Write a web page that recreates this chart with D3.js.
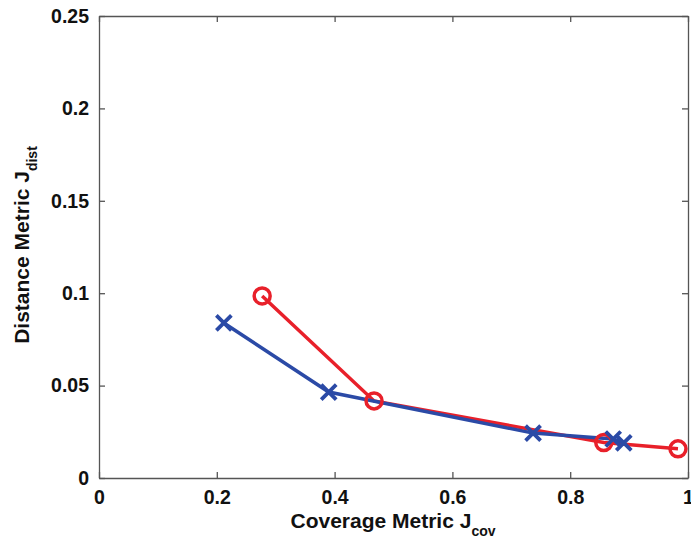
<html>
<head>
<script src="https://d3js.org/d3.v7.min.js"></script>
<style>
  body { margin: 0; background: white; }
  text { font-family: "Liberation Sans", Arial, sans-serif; font-weight: bold; }
</style>
</head>
<body>
<script>
// values
var redX = [0.277, 0.467, 0.857, 0.983];
var redY = [0.0985, 0.0417, 0.0192, 0.0158];
var blueX = [0.212, 0.390, 0.737, 0.873, 0.891];
var blueY = [0.0839, 0.0465, 0.0243, 0.0211, 0.0190];
var xTicks = [0, 0.2, 0.4, 0.6, 0.8, 1];
var yTicks = [0, 0.05, 0.1, 0.15, 0.2, 0.25];

var width = 691, height = 546;
var mLeft = 99, mRight = 688, mTop = 16, mBottom = 478;

var svg = d3.select("body").append("svg")
  .attr("width", width)
  .attr("height", height);

var x = d3.scaleLinear().domain([0, 1]).range([mLeft, mRight]);
var y = d3.scaleLinear().domain([0, 0.25]).range([mBottom, mTop]);

var fmt = function(d) { return String(+d.toFixed(2)); };

// axes: ticks inward, mirrored on top/right
svg.append("g").attr("transform", "translate(0," + mBottom + ")")
  .call(d3.axisBottom(x).tickValues(xTicks).tickSizeInner(-6).tickSizeOuter(0).tickPadding(12).tickFormat(fmt));
svg.append("g").attr("transform", "translate(" + mLeft + ",0)")
  .call(d3.axisLeft(y).tickValues(yTicks).tickSizeInner(-6).tickSizeOuter(0).tickPadding(10).tickFormat(fmt));
svg.append("g").attr("transform", "translate(0," + mTop + ")")
  .call(d3.axisTop(x).tickValues(xTicks).tickSizeInner(-6).tickSizeOuter(0).tickFormat(""));
svg.append("g").attr("transform", "translate(" + mRight + ",0)")
  .call(d3.axisRight(y).tickValues(yTicks).tickSizeInner(-6).tickSizeOuter(0).tickFormat(""));

svg.selectAll(".domain, .tick line").attr("stroke", "#555").attr("stroke-width", 1.3);
svg.selectAll(".tick text").attr("font-size", 19.5).attr("fill", "#111")
  .style("font-family", "'Liberation Sans', Arial, sans-serif").style("font-weight", "bold");

var line = d3.line().x(function(d) { return x(d[0]); }).y(function(d) { return y(d[1]); });

var red = redX.map(function(v, i) { return [v, redY[i]]; });
var blue = blueX.map(function(v, i) { return [v, blueY[i]]; });

var redC = "#e8202a", blueC = "#2b4aa6";

svg.append("path").datum(red).attr("d", line)
  .attr("fill", "none").attr("stroke", redC).attr("stroke-width", 3.5);
svg.append("path").datum(blue).attr("d", line)
  .attr("fill", "none").attr("stroke", blueC).attr("stroke-width", 3.5);

svg.selectAll(".circ").data(red).enter().append("circle")
  .attr("cx", function(d) { return x(d[0]); })
  .attr("cy", function(d) { return y(d[1]); })
  .attr("r", 8)
  .attr("fill", "none").attr("stroke", redC).attr("stroke-width", 3.5);

var s = 7.5;
svg.selectAll(".cross").data(blue).enter().append("path")
  .attr("d", function(d) {
    var cx = x(d[0]), cy = y(d[1]);
    return "M" + (cx - s) + "," + (cy - s) + "L" + (cx + s) + "," + (cy + s) +
           "M" + (cx - s) + "," + (cy + s) + "L" + (cx + s) + "," + (cy - s);
  })
  .attr("stroke", blueC).attr("stroke-width", 3.8).attr("fill", "none");

// axis labels
var xl = svg.append("text").attr("x", 393).attr("y", 528)
  .attr("text-anchor", "middle").attr("font-size", 21).attr("fill", "#111");
xl.append("tspan").text("Coverage Metric J");
xl.append("tspan").attr("font-size", 14).attr("dy", 8).text("cov");

var yl = svg.append("text")
  .attr("transform", "translate(29,245) rotate(-90)")
  .attr("text-anchor", "middle").attr("font-size", 21).attr("fill", "#111");
yl.append("tspan").text("Distance Metric J");
yl.append("tspan").attr("font-size", 14).attr("dy", 8).text("dist");
</script>
</body>
</html>
